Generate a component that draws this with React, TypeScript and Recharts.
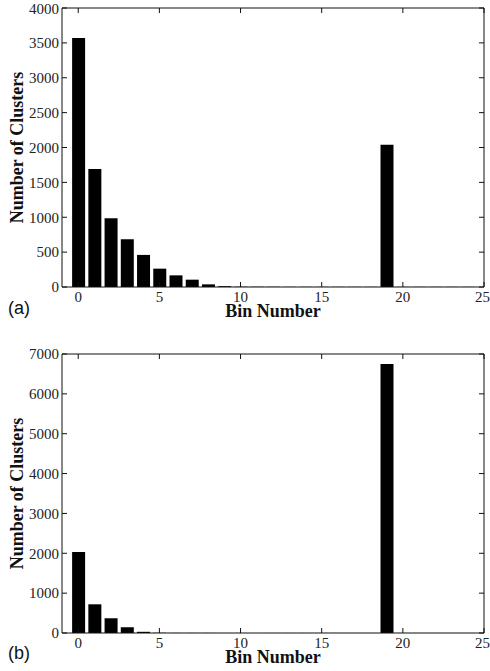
import { Bar, BarChart, XAxis, YAxis } from 'recharts'

const bins = [0, 1, 2, 3, 4, 5, 6, 7, 8, 9, 10, 11, 12, 13, 14, 15, 16, 17, 18, 19, 20, 21, 22, 23, 24]

const clustersA = [3570, 1690, 985, 683, 460, 263, 167, 105, 38, 12, 4, 3, 3, 2, 2, 2, 2, 2, 2, 2040, 2, 2, 2, 2, 2]
const clustersB = [2030, 720, 370, 143, 30, 5, 2, 2, 2, 1, 1, 1, 1, 1, 1, 1, 1, 1, 1, 6750, 1, 1, 1, 1, 1]

const xTicks = [0, 5, 10, 15, 20, 25]
const yTicksA = [0, 500, 1000, 1500, 2000, 2500, 3000, 3500, 4000]
const yTicksB = [0, 1000, 2000, 3000, 4000, 5000, 6000, 7000]

const serif = '"Liberation Serif", "Times New Roman", serif'
const tickStyle = { fontSize: 15, fill: '#222', fontFamily: serif }
const titleStyle = { fontSize: 18, fontWeight: 'bold', fill: '#111', fontFamily: serif }
const noLabel = () => ''

const LEFT = 62
const RIGHT = 6

function Histogram({
  values,
  yTicks,
  yMax,
  height,
  top,
  xAxisHeight,
}: {
  values: number[]
  yTicks: number[]
  yMax: number
  height: number
  top: number
  xAxisHeight: number
}) {
  const data = bins.map((bin, i) => ({ bin, count: values[i] }))
  return (
    <div style={{ position: 'relative', width: 490, height }}>
      <BarChart width={490} height={height} data={data} margin={{ top, right: RIGHT, left: 0, bottom: 0 }}>
        <XAxis
          dataKey="bin"
          type="number"
          domain={[-1, 25]}
          ticks={xTicks}
          allowDataOverflow
          height={xAxisHeight}
          stroke="#111"
          tickSize={-5}
          tickMargin={9}
          tick={tickStyle}
          label={{ value: 'Bin Number', position: 'insideTop', offset: 17, style: titleStyle }}
        />
        <YAxis
          domain={[0, yMax]}
          ticks={yTicks}
          width={LEFT}
          stroke="#111"
          tickSize={-5}
          tickMargin={8}
          tick={tickStyle}
          label={{
            value: 'Number of Clusters',
            angle: -90,
            position: 'insideLeft',
            offset: 17,
            style: { ...titleStyle, textAnchor: 'middle' },
          }}
        />
        <Bar dataKey="count" fill="#000" barSize={13} isAnimationActive={false} />
      </BarChart>

      {/* same plot area again, but with top/right axes to close the box */}
      <div style={{ position: 'absolute', left: 0, top: 0 }}>
        <BarChart
          width={490}
          height={height}
          data={data}
          margin={{ top: 0, right: 0, left: LEFT, bottom: xAxisHeight }}
        >
          <XAxis
            orientation="top"
            dataKey="bin"
            type="number"
            domain={[-1, 25]}
            ticks={xTicks}
            allowDataOverflow
            height={top}
            stroke="#111"
            tickSize={-5}
            tickFormatter={noLabel}
          />
          <YAxis
            orientation="right"
            domain={[0, yMax]}
            ticks={yTicks}
            width={RIGHT}
            stroke="#111"
            tickSize={-5}
            tickFormatter={noLabel}
          />
          <Bar dataKey="count" fill="transparent" barSize={13} isAnimationActive={false} />
        </BarChart>
      </div>
    </div>
  )
}

const panelLabel = {
  position: 'absolute' as const,
  left: 8,
  fontFamily: '"Liberation Sans", Arial, sans-serif',
  fontSize: 18,
  color: '#111',
  lineHeight: '20px',
}

export default function App() {
  return (
    <div style={{ position: 'absolute', left: 0, top: 0, width: 490, height: 671, background: '#fff' }}>
      <Histogram values={clustersA} yTicks={yTicksA} yMax={4000} height={335} top={8} xAxisHeight={48} />
      <Histogram values={clustersB} yTicks={yTicksB} yMax={7000} height={336} top={19} xAxisHeight={38} />
      <div style={{ ...panelLabel, top: 298 }}>(a)</div>
      <div style={{ ...panelLabel, top: 643 }}>(b)</div>
    </div>
  )
}
